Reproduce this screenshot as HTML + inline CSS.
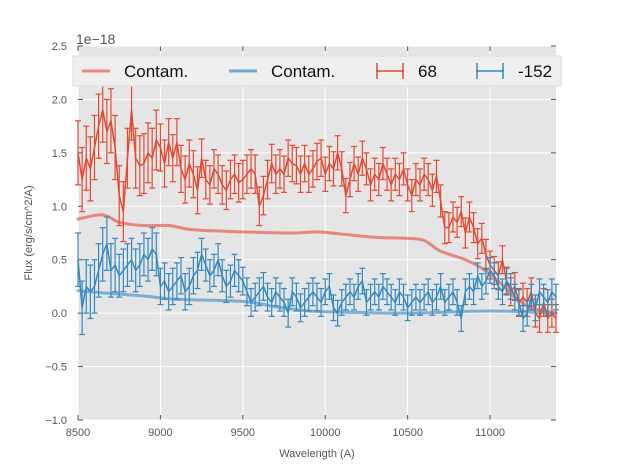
<!DOCTYPE html>
<html><head><meta charset="utf-8"><style>
body{margin:0;background:#fff;}
svg{display:block;font-family:"Liberation Sans",sans-serif;}
</style></head><body>
<svg id="c" width="617" height="467"></svg>
<script>
const wave0 = 8500, waveStep = 25;
const redFlux = [1.50,1.25,1.45,1.35,1.55,1.75,1.90,1.70,1.80,1.55,
1.10,0.95,1.45,1.90,1.45,1.38,1.40,1.50,1.45,1.62,
1.55,1.40,1.60,1.45,1.60,1.35,1.25,1.40,1.30,1.15,
1.45,1.25,1.20,1.35,1.30,1.20,1.15,1.25,1.30,1.22,
1.25,1.30,1.35,1.30,1.00,1.10,1.25,1.40,1.30,1.35,
1.30,1.45,1.40,1.38,1.30,1.40,1.30,1.35,1.42,1.45,
1.30,1.40,1.35,1.50,1.35,1.10,1.25,1.40,1.30,1.45,
1.35,1.20,1.30,1.25,1.40,1.30,1.20,1.30,1.25,1.35,
1.20,1.10,1.25,1.20,1.30,1.25,1.15,1.28,1.05,0.80,
0.80,0.90,0.85,0.95,0.75,0.90,0.80,0.65,0.70,0.55,
0.45,0.40,0.35,0.50,0.30,0.20,0.25,0.10,0.15,0.10,
0.20,0.00,-0.05,0.10,-0.05,0.00,-0.05];
const blueFlux = [0.50,0.05,0.25,0.20,0.25,0.40,0.55,0.65,0.40,0.45,
0.35,0.40,0.45,0.50,0.40,0.45,0.55,0.50,0.60,0.55,
0.25,0.30,0.20,0.25,0.30,0.35,0.20,0.25,0.35,0.40,
0.55,0.45,0.35,0.40,0.50,0.35,0.25,0.30,0.40,0.35,
0.30,0.20,0.10,0.15,0.20,0.25,0.15,0.10,0.20,0.15,
0.10,0.00,0.20,0.15,0.05,0.10,0.15,0.20,0.15,0.10,
0.20,0.25,0.05,0.00,0.10,0.15,0.20,0.15,0.25,0.30,
0.10,0.15,0.20,0.15,0.25,0.20,0.15,0.10,0.20,0.15,
0.05,0.10,0.15,0.10,0.15,0.20,0.10,0.15,0.25,0.10,
0.15,0.20,0.10,-0.05,0.20,0.25,0.20,0.35,0.25,0.30,
0.40,0.35,0.25,0.20,0.30,0.25,0.15,0.10,-0.05,0.00,
0.15,0.05,0.20,0.15,0.10,0.20,0.15];
const redErrByBlock = [0.30,0.28,0.22,0.18,0.18,0.17,0.16,0.15,0.15,0.14,0.13,0.13];
const blueErrByBlock = [0.25,0.20,0.17,0.15,0.13,0.13,0.12,0.12,0.12,0.12,0.12,0.12];
const contWave = [8500,8650,8750,8900,9050,9200,9500,9800,9950,10100,10300,10500,10600,10700,10850,10950,11050,11150,11250,11400];
const contRed = [0.88,0.92,0.85,0.82,0.82,0.78,0.76,0.75,0.76,0.74,0.71,0.70,0.68,0.58,0.50,0.42,0.30,0.15,0.05,0.00];
const contBlueWave = [8500,8650,8900,9100,9500,9700,9900,10100,10500,11000,11400];
const contBlue = [0.21,0.19,0.16,0.13,0.11,0.06,0.02,0.01,0.00,0.02,0.00];
const xTicks = [8500,9000,9500,10000,10500,11000];
const yTicks = [-1.0,-0.5,0.0,0.5,1.0,1.5,2.0,2.5];

const L=78,R=556,T=46,B=420, xmin=8500,xmax=11400,ymin=-1,ymax=2.5;
const X=v=>L+(v-xmin)/(xmax-xmin)*(R-L);
const Y=v=>B-(v-ymin)/(ymax-ymin)*(B-T);
const svg=document.getElementById('c');
const NS='http://www.w3.org/2000/svg';
function mk(tag,attrs,parent){const e=document.createElementNS(NS,tag);for(const k in attrs)e.setAttribute(k,attrs[k]);(parent||svg).appendChild(e);return e;}

const bg=mk('rect',{x:L,y:T,width:R-L,height:B-T,fill:'#e5e5e5'});


xTicks.forEach(t=>{
  const g=mk('line',{x1:X(t),x2:X(t),y1:T,y2:B,stroke:'#fff','stroke-width':1});
  
  
  mk('line',{x1:X(t),x2:X(t),y1:B,y2:B-5,stroke:'#555'});
  mk('line',{x1:X(t),x2:X(t),y1:T,y2:T+5,stroke:'#555'});
  const tx=mk('text',{x:X(t),y:B+16,'text-anchor':'middle','font-size':11,fill:'#555'});
  tx.textContent=t;
  
  
});
yTicks.forEach(t=>{
  const g=mk('line',{x1:L,x2:R,y1:Y(t),y2:Y(t),stroke:'#fff','stroke-width':1});
  
  
  mk('line',{x1:L,x2:L+5,y1:Y(t),y2:Y(t),stroke:'#555'});
  mk('line',{x1:R,x2:R-5,y1:Y(t),y2:Y(t),stroke:'#555'});
  const tx=mk('text',{x:L-11,y:Y(t)+4,'text-anchor':'end','font-size':11,fill:'#555'});
  tx.textContent=t.toFixed(1).replace('-','\u2212');
  
  
});
function smooth(ws,vs,color,width,op,name){
  const P=ws.map((w,i)=>[X(w),Y(vs[i])]);
  let d='M'+P[0][0]+','+P[0][1];
  for(let i=0;i<P.length-1;i++){
    const p0=P[Math.max(0,i-1)],p1=P[i],p2=P[i+1],p3=P[Math.min(P.length-1,i+2)];
    const c1=[p1[0]+(p2[0]-p0[0])/6,p1[1]+(p2[1]-p0[1])/6];
    const c2=[p2[0]-(p3[0]-p1[0])/6,p2[1]-(p3[1]-p1[1])/6];
    d+=' C'+c1.join(',')+' '+c2.join(',')+' '+p2.join(',');
  }
  const p=mk('path',{d:d,fill:'none',stroke:color,'stroke-width':width,'stroke-opacity':op,'stroke-linecap':'round'});
  
  
}
function line(ws,vs,color,width,op,name){
  const p=mk('polyline',{points:ws.map((w,i)=>X(w)+','+Y(vs[i])).join(' '),fill:'none',stroke:color,'stroke-width':width,'stroke-opacity':op,'stroke-linejoin':'round'});
  
  
}
smooth(contWave,contRed,'#e8766a',3,0.85,'contam-red-line');
smooth(contBlueWave,contBlue,'#5a9bc8',3,0.75,'contam-blue-line');
function series(vals,errs,color,name){
  const ws=vals.map((v,i)=>wave0+i*waveStep);
  const g=mk('g',{stroke:color,'stroke-width':1.2});
  
  
  vals.forEach((v,i)=>{
    const e=errs[Math.floor(i/10)],x=X(ws[i]);
    mk('line',{x1:x,x2:x,y1:Y(v-e),y2:Y(v+e)},g);
    mk('line',{x1:x-3,x2:x+3,y1:Y(v-e),y2:Y(v-e)},g);
    mk('line',{x1:x-3,x2:x+3,y1:Y(v+e),y2:Y(v+e)},g);
  });
  line(ws,vals,color,1.5,1,name+'-line');
}
series(redFlux,redErrByBlock,'#e24a33','series-68');
series(blueFlux,blueErrByBlock,'#348abd','series-152');

const lg=mk('g',{});


mk('rect',{x:73,y:56,width:488,height:30,fill:'#efefef',stroke:'#dddddd'},lg);
const items=[['Contam.','#e8766a',82,false],['Contam.','#5a9bc8',229,false],['68','#e24a33',376,true],['-152','#348abd',476,true]];
items.forEach(([lab,c,x,eb])=>{
  const y=71;
  mk('line',{x1:x,x2:x+28,y1:y,y2:y,stroke:c,'stroke-width':eb?1.5:3,'stroke-opacity':eb?1:0.85},lg);
  if(eb){mk('line',{x1:x+1,x2:x+1,y1:y-8,y2:y+8,stroke:c,'stroke-width':1.5},lg);mk('line',{x1:x+27,x2:x+27,y1:y-8,y2:y+8,stroke:c,'stroke-width':1.5},lg);}
  const t=mk('text',{x:x+42,y:y+6,'font-size':17,fill:'#111'},lg);
  t.textContent=lab;
  
  
});
const off=mk('text',{x:76,y:44,'font-size':14,fill:'#555'});off.textContent='1e\u221218';


const xl=mk('text',{x:317,y:457,'text-anchor':'middle','font-size':11,fill:'#555'});xl.textContent='Wavelength (A)';


const yl=mk('text',{x:32,y:233,'text-anchor':'middle','font-size':11,fill:'#555',transform:'rotate(-90 32 233)'});yl.textContent='Flux (erg/s/cm^2/A)';


</script>
</body></html>
